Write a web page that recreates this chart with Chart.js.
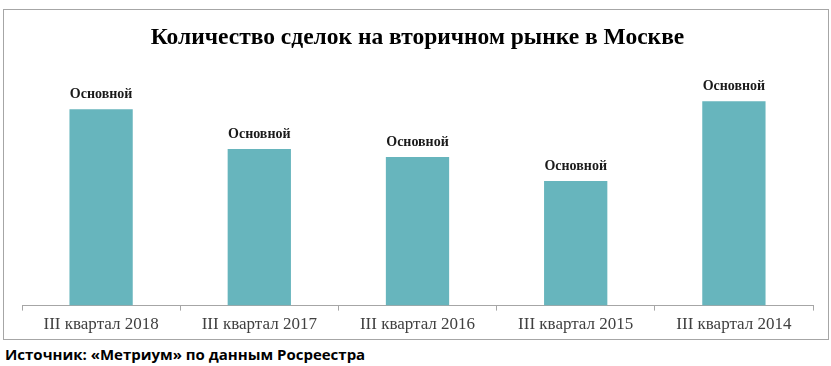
<!DOCTYPE html>
<html>
<head>
<meta charset="utf-8">
<script src="https://cdn.jsdelivr.net/npm/chart.js@4"></script>
<style>
  body { margin: 0; background: #fff; width: 831px; height: 366px; position: relative; overflow: hidden; }
  #box { position: absolute; left: 3px; top: 9px; width: 824px; height: 329px; border: 1px solid #a6a6a6; }
  #footer { position: absolute; left: 5px; top: 344px; font-family: "Open Sans", sans-serif; font-weight: bold; font-size: 15px; color: #000; white-space: nowrap; }
</style>
</head>
<body>
<div id="box"><canvas id="grafico" width="824" height="329"></canvas></div>
<div id="footer">Источник: «Метриум» по данным Росреестра</div>
<script>
// данные
const kvartaly = ["III квартал 2018", "III квартал 2017", "III квартал 2016", "III квартал 2015", "III квартал 2014"];
const sdelki = [39.4, 31.4, 29.8, 25.0, 41.0];
const podpisi = ["Основной", "Основной", "Основной", "Основной", "Основной"];

const cvetStolbca = "#67b5bd";

// подписи над столбцами
const pluginPodpisi = {
  id: "podpisi",
  afterDatasetsDraw(chart) {
    const ctx = chart.ctx;
    const meta = chart.getDatasetMeta(0);
    ctx.save();
    ctx.font = "bold 14px 'Liberation Serif', serif";
    ctx.fillStyle = "#1a1a1a";
    ctx.textAlign = "center";
    ctx.textBaseline = "bottom";
    meta.data.forEach((bar, i) => {
      ctx.fillText(podpisi[i], bar.x, bar.y - 8);
    });
    ctx.restore();
  }
};

new Chart(document.getElementById("grafico"), {
  type: "bar",
  data: {
    labels: kvartaly,
    datasets: [{ data: sdelki, backgroundColor: cvetStolbca, barPercentage: 0.4, categoryPercentage: 1 }]
  },
  options: {
    responsive: false,
    animation: false,
    layout: { padding: { left: 18, right: 15, top: 14, bottom: 0 } },
    plugins: {
      legend: { display: false },
      tooltip: { enabled: false },
      title: {
        display: true,
        text: "Количество сделок на вторичном рынке в Москве",
        color: "#000",
        font: { family: "'Liberation Serif', serif", size: 23.5, weight: "bold" },
        padding: { top: 0, bottom: 14.2 }
      }
    },
    scales: {
      x: {
        grid: { drawOnChartArea: false, drawTicks: true, tickLength: 5, color: "#a6a6a6", offset: true },
        border: { color: "#a6a6a6" },
        ticks: { color: "#404040", font: { family: "'Liberation Serif', serif", size: 17 }, padding: 4, maxRotation: 0 }
      },
      y: { display: false, min: 0, max: 48 }
    }
  },
  plugins: [pluginPodpisi]
});
</script>
</body>
</html>
